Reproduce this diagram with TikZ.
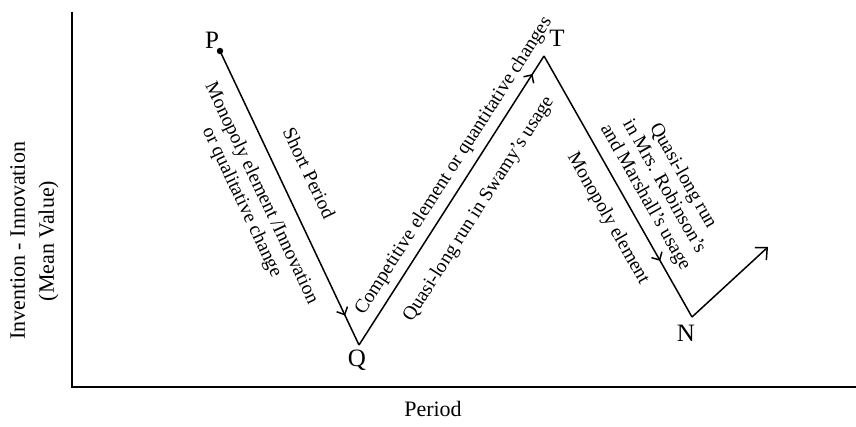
\documentclass[tikz,border=0pt]{standalone}
\usepackage{fontspec}
\setmainfont{Liberation Serif}
\usetikzlibrary{arrows.meta,decorations.markings}

\tikzset{
  curve/.style={line width=1.5pt},
  flowmark/.style={postaction={decorate},
    decoration={markings, mark=at position #1 with {\arrow{>}}}},
  edgetext/.style={sloped, align=center, inner sep=0pt,
    font=\fontsize{19.5}{21.7}\selectfont},
  ptname/.style={inner sep=0pt, font=\fontsize{25}{28}\selectfont},
  axistext/.style={align=center, inner sep=0pt, font=\fontsize{22}{29}\selectfont}
}

\begin{document}
\begin{tikzpicture}[x=1pt, y=1pt, >={Straight Barb[length=6pt,width=12pt]}]
        \useasboundingbox (0,0) rectangle (856,427);

        % Achsen
        \coordinate (O) at (72,40);
        \coordinate (ytop) at (72,415);
        \coordinate (xend) at (856,40);
        \draw[line width=1.3pt] (ytop) -- (O) -- (xend);
        \node[axistext] (xlabel) at (433,18) {Period};
        \node[axistext, rotate=90] (ylabel) at (34.5,186) {Invention - Innovation\\(Mean Value)};

        % Punkte der Kurve
        \coordinate (P) at (220,376);
        \coordinate (Q) at (359,82);
        \coordinate (T) at (544,371);
        \coordinate (N) at (692,110);
        \coordinate (R) at (768,180);

        \fill (P) circle (3.2pt);
        \node[ptname] (Pname) at ([shift={(-8pt,11pt)}]P) {P};
        \node[ptname] (Qname) at ([shift={(-2pt,-15pt)}]Q) {Q};
        \node[ptname] (Tname) at ([shift={(13pt,18pt)}]T) {T};
        \node[ptname] (Nname) at ([shift={(-6pt,-16pt)}]N) {N};

        % P nach Q
        \draw[curve, flowmark=0.9] (P) -- (Q)
          node[edgetext, pos=0.457, above=21pt] (shortlbl) {Short Period}
          node[edgetext, pos=0.45, below=14pt] (monolbl) {Monopoly element /Innovation\\or qualitative change};

        % Q nach T
        \draw[curve, flowmark=0.9375] (Q) -- (T)
          node[edgetext, pos=0.589, above=7pt] (complbl) {Competitive element or quantitative changes}
          node[edgetext, pos=0.522, below=18pt] (swamylbl) {Quasi-long run in Swamy's usage};

        % T nach N
        \draw[curve, flowmark=0.785] (T) -- (N)
          node[edgetext, pos=0.576, below=15pt] (monotn) {Monopoly element}
          node[edgetext, pos=0.576, above=8.5pt] (robinlbl) {Quasi-long run\\in Mrs. Robinson's\\and Marshall's usage};

        % N weiter
        \draw[curve, -{Straight Barb[length=9pt,width=17pt]}] (N) -- (R);

\end{tikzpicture}
\end{document}
